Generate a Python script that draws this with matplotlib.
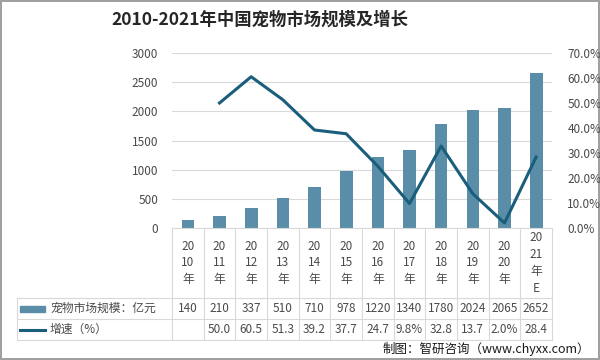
import matplotlib.pyplot as plt
import matplotlib.transforms as mtransforms
from matplotlib.patches import Rectangle
from matplotlib.lines import Line2D

plt.rcParams['font.family'] = ['Noto Sans CJK SC', 'DejaVu Sans']

years = ['2010', '2011', '2012', '2013', '2014', '2015', '2016', '2017', '2018', '2019', '2020', '2021']
year_labels = ['20\n10\n年', '20\n11\n年', '20\n12\n年', '20\n13\n年', '20\n14\n年', '20\n15\n年',
               '20\n16\n年', '20\n17\n年', '20\n18\n年', '20\n19\n年', '20\n20\n年', '20\n21\n年\nE']
market = [140, 210, 337, 510, 710, 978, 1220, 1340, 1780, 2024, 2065, 2652]
growth = [None, 50.0, 60.5, 51.3, 39.2, 37.7, 24.7, 9.8, 32.8, 13.7, 2.0, 28.4]
growth_text = ['', '50.0', '60.5', '51.3', '39.2', '37.7', '24.7', '9.8%', '32.8', '13.7', '2.0%', '28.4']

bar_color = '#5A8EA8'
line_color = '#1A5E7C'
grid_color = '#D9D9D9'
text_color = '#4A4A4A'

fig = plt.figure(figsize=(6, 3.6), dpi=100)
fig.patch.set_edgecolor('#A0A0A0')
fig.patch.set_linewidth(1.5)
ax = fig.add_axes([172/600, 1-228/360, 380/600, 175/360])
ax2 = ax.twinx()

x = list(range(len(years)))
ax.bar(x, market, width=0.4, color=bar_color, zorder=2)
gx = [i for i, g in zip(x, growth) if g is not None]
gy = [g for g in growth if g is not None]
ax2.plot(gx, gy, color=line_color, linewidth=2.2, zorder=3)

ax.set_xlim(-0.5, len(years) - 0.5)
ax.set_ylim(0, 3000)
ax.set_yticks(range(0, 3001, 500))
ax2.set_ylim(0, 70)
ax2.set_yticks(range(0, 71, 10))
ax2.set_yticklabels([f'{v:.1f}%' for v in range(0, 71, 10)])
ax.grid(axis='y', color=grid_color, linewidth=0.8, zorder=0)
ax.set_xticks([])
for a in (ax, ax2):
    for s in a.spines.values():
        s.set_visible(False)
    a.tick_params(axis='y', length=0, labelsize=8.5, labelcolor=text_color)
ax.tick_params(axis='y', pad=10)
ax2.tick_params(axis='y', pad=11)
ax.spines['bottom'].set_visible(True)
ax.spines['bottom'].set_color(grid_color)

# data table under the axis
tr = mtransforms.blended_transform_factory(ax.transData, fig.transFigure)
y_top = 1 - 228/360
y_r1 = 1 - 298/360
y_r2 = 1 - 319/360
y_bot = 1 - 340/360
for i in range(len(years) + 1):
    fig.add_artist(Line2D([i - 0.5, i - 0.5], [y_top, y_bot], transform=tr, color=grid_color, linewidth=0.8))
for yy in (y_r1, y_r2, y_bot):
    fig.add_artist(Line2D([17/600, 552/600], [yy, yy], transform=fig.transFigure, color=grid_color, linewidth=0.8))
fig.add_artist(Line2D([17/600, 17/600], [y_r1, y_bot], transform=fig.transFigure, color=grid_color, linewidth=0.8))

for i, lab in enumerate(year_labels):
    fig.text(i, 1 - 263/360, lab, transform=tr, ha='center', va='center', fontsize=8.5,
             color=text_color, linespacing=1.4)
    fig.text(i, (y_r1 + y_r2) / 2, str(market[i]), transform=tr, ha='center', va='center',
             fontsize=8.5, color=text_color)
    fig.text(i, (y_r2 + y_bot) / 2, growth_text[i], transform=tr, ha='center', va='center',
             fontsize=8.5, color=text_color)

fig.add_artist(Rectangle((20/600, (y_r1 + y_r2) / 2 - 3/360), 25/600, 6/360,
                         transform=fig.transFigure, color=bar_color))
fig.add_artist(Line2D([20/600, 45/600], [(y_r2 + y_bot) / 2] * 2, transform=fig.transFigure,
                      color=line_color, linewidth=2.2))
fig.text(50/600, (y_r1 + y_r2) / 2, '宠物市场规模：亿元', ha='left', va='center', fontsize=8.5, color=text_color)
fig.text(50/600, (y_r2 + y_bot) / 2, '增速（%）', ha='left', va='center', fontsize=8.5, color=text_color)

fig.text(260/600, 1 - 20/360, '2010-2021年中国宠物市场规模及增长', ha='center', va='center',
         fontsize=12.5, fontweight='bold', color='#262626')
fig.text(590/600, 1 - 349/360, '制图：智研咨询（www.chyxx.com）', ha='right', va='center',
         fontsize=9, color='#1a1a1a')

fig.savefig('out.png', dpi=100)
